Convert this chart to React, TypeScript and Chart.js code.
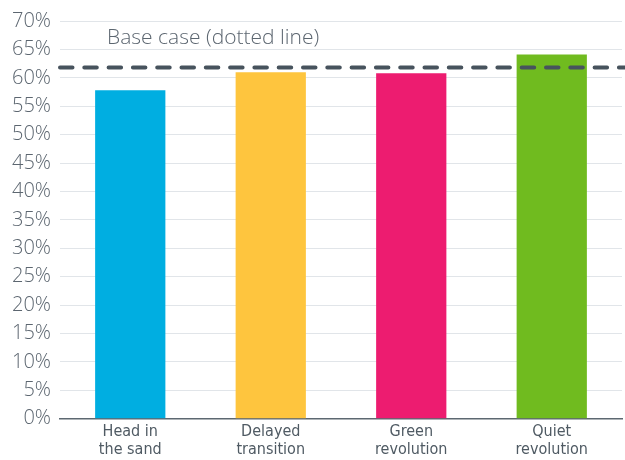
import { useEffect, useRef } from "react";
import { Chart, registerables } from "chart.js";

Chart.register(...registerables);

// Scenario categories (two-line axis labels)
const SCENARIOS: string[][] = [
  ["Head in", "the sand"],
  ["Delayed", "transition"],
  ["Green", "revolution"],
  ["Quiet", "revolution"],
];
// Share per scenario, in percent
const SHARE: number[] = [57.8, 61.0, 60.8, 64.1];
const BAR_COLORS: string[] = ["#00aee1", "#fec53e", "#ed1c70", "#70bb1f"];
// Base case reference level, in percent
const BASE_CASE = 61.8;
const BASE_CASE_LABEL = "Base case (dotted line)";
const Y_MIN = 0;
const Y_MAX = 70;
const Y_STEP = 5;

const TEXT_GREY = "#5c6670";
const LINE_GREY = "#47535d";
const LIGHT_FONT = "'Open Sans', Lato, sans-serif";

const baseCasePlugin = {
  id: "baseCase",
  afterDatasetsDraw(chart: any) {
    const { ctx, chartArea, scales } = chart;
    const y = scales.y.getPixelForValue(BASE_CASE);
    ctx.save();
    ctx.strokeStyle = LINE_GREY;
    ctx.lineWidth = 4;
    ctx.lineCap = "round";
    ctx.setLineDash([12.5, 11.8]);
    ctx.beginPath();
    ctx.moveTo(chartArea.left, y);
    ctx.lineTo(chart.width + 10, y);
    ctx.stroke();
    ctx.setLineDash([]);
    ctx.font = `300 21px ${LIGHT_FONT}`;
    ctx.fillStyle = TEXT_GREY;
    ctx.textAlign = "left";
    ctx.textBaseline = "alphabetic";
    ctx.fillText(BASE_CASE_LABEL, chartArea.left + 47, y - 24);
    ctx.restore();
  },
};

export default function App() {
  const canvasRef = useRef<HTMLCanvasElement | null>(null);

  useEffect(() => {
    if (!canvasRef.current) return;
    const chart = new Chart(canvasRef.current, {
      type: "bar",
      data: {
        labels: SCENARIOS,
        datasets: [
          {
            data: SHARE,
            backgroundColor: BAR_COLORS,
            borderWidth: 0,
            barPercentage: 0.5,
            categoryPercentage: 1,
          },
        ],
      },
      options: {
        animation: false,
        responsive: true,
        maintainAspectRatio: false,
        layout: { padding: { top: 17.3, right: 3, left: 0, bottom: 0 } },
        plugins: {
          legend: { display: false },
          tooltip: { enabled: false },
        },
        scales: {
          x: {
            grid: { display: false, drawTicks: false },
            border: { display: true, color: "#5d6871", width: 1.5 },
            ticks: {
              color: "#4f5a63",
              padding: 4,
              font: {
                family: "'Liberation Sans Narrow', 'DejaVu Sans Condensed', sans-serif",
                size: 16,
                lineHeight: 1.15,
              },
            },
            afterFit(scale: any) {
              scale.height = 41.3;
            },
          },
          y: {
            min: Y_MIN,
            max: Y_MAX,
            grid: { color: "#e1e5e9", lineWidth: 1, drawTicks: false },
            border: { display: false },
            ticks: {
              stepSize: Y_STEP,
              color: TEXT_GREY,
              padding: 9,
              font: { family: LIGHT_FONT, size: 20, weight: "300" as any },
              callback: (v: any) => `${v}%`,
            },
            afterFit(scale: any) {
              scale.width = 60;
            },
          },
        },
      },
      plugins: [baseCasePlugin],
    });
    return () => chart.destroy();
  }, []);

  return (
    <div style={{ position: "fixed", left: 0, top: 0, width: 625, height: 460, background: "#fff" }}>
      <canvas ref={canvasRef} />
    </div>
  );
}
